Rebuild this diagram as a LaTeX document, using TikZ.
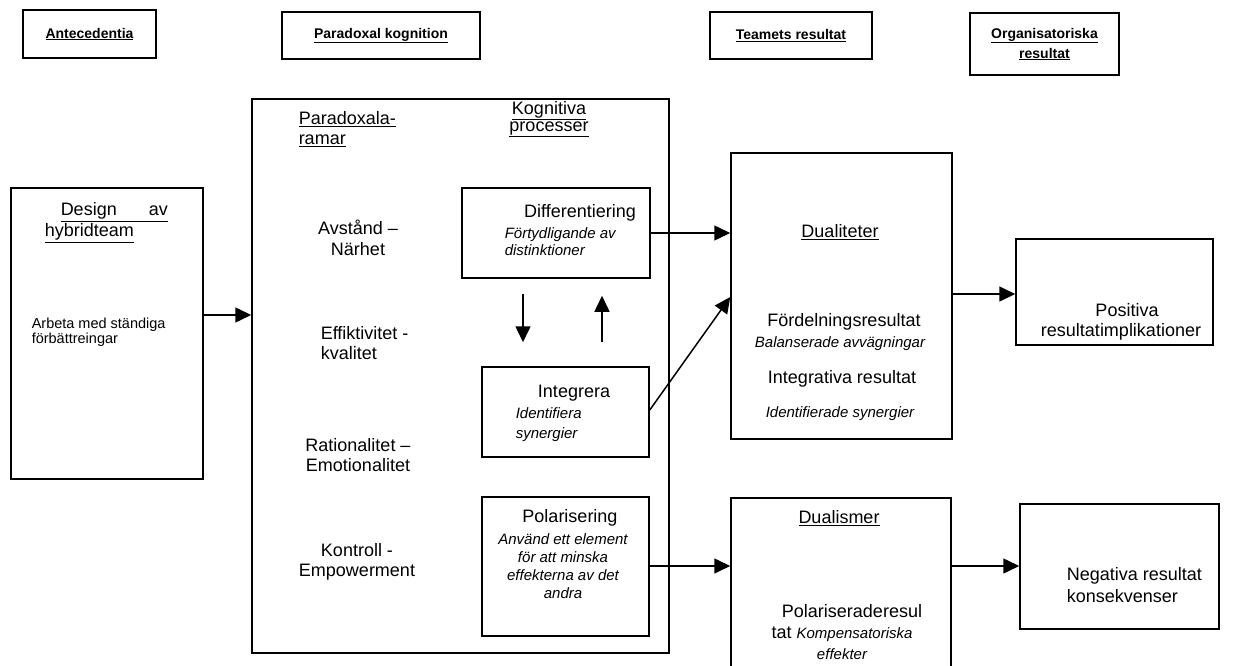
\documentclass[tikz,border=0pt]{standalone}
\usepackage{fontspec}
\setmainfont{Liberation Sans}
\usetikzlibrary{arrows.meta}

\begin{document}
\begin{tikzpicture}[x=1pt, y=-1pt, line width=1.5pt,
    box/.style={draw, inner sep=0pt},
    head/.style={box, align=center, font=\fontsize{14}{20}\selectfont\bfseries},
    txt/.style={inner sep=0pt, font=\fontsize{18}{20.5}\selectfont},
    itx/.style={inner sep=0pt, font=\fontsize{15}{18}\selectfont\itshape},
    arr/.style={-{Triangle[length=16pt,width=15pt]}}]

    % Fix the page to the size of the reference
    \useasboundingbox (0,0) rectangle (1242,666);
    \clip (0,0) rectangle (1242,666);

    % Define the 4 column headers in a row
    \foreach \nm/\cx/\cy/\w/\h/\txt in {ante/89.5/34/133/48/{\underline{Antecedentia}},
        para/381/35.5/198/47/{\underline{Paradoxal kognition}},
        team/791/35.5/162/47/{\underline{Teamets resultat}},
        org/1044.5/44/149/62/{\underline{Organisatoriska}\\\underline{resultat}}} {
      \node[head, minimum width=\w, minimum height=\h] (h\nm) at (\cx,\cy) {\txt};
    }

    % Define the boxes
    \node[box, minimum width=192, minimum height=291] (design) at (107,333.5) {};
    \node[box, minimum width=417, minimum height=554] (frame) at (460.5,376) {};
    \node[box, minimum width=188, minimum height=90] (diff) at (556,233) {};
    \node[box, minimum width=167, minimum height=90] (integ) at (565.5,412) {};
    \node[box, minimum width=167, minimum height=139] (polar) at (565.5,566.5) {};
    \node[box, minimum width=221, minimum height=286] (dual) at (841.5,296) {};
    \node[box, minimum width=220, minimum height=192] (dualism) at (841,594) {};
    \node[box, minimum width=197, minimum height=106] (pos) at (1114.5,292) {};
    \node[box, minimum width=199, minimum height=125] (neg) at (1119.5,566.5) {};

    % Texts of the antecedent box
    \node[txt, anchor=west] (designA) at (60,212) {\underline{Design\hspace{32pt}av}};
    \node[txt, anchor=west] (designB) at (44,233) {\underline{hybridteam}};
    \node[inner sep=0pt, align=left, anchor=west, font=\fontsize{14.5}{15.5}\selectfont] (arbeta) at (31,332) {Arbeta med ständiga\\förbättreingar};

    % Texts of the paradox frames
    \node[txt, align=left, anchor=west] (ramar) at (298,129) {\underline{Paradoxala-}\\\underline{ramar}};
    \node[txt, align=center, font=\fontsize{18}{17}\selectfont] (kogn) at (549,119) {\underline{Kognitiva}\\\underline{processer}};
    \foreach \nm/\cx/\cy/\txt in {avst/358/238/{Avstånd –\\Närhet},
        ratio/358/455/{Rationalitet –\\Emotionalitet},
        kontr/357/562/{Kontroll -\\Empowerment}} {
      \node[txt, align=center] (\nm) at (\cx,\cy) {\txt};
    }
    \node[txt, align=left, anchor=west] (effk) at (320,343) {Effiktivitet -\\kvalitet};

    % Texts of the cognitive processes
    \node[txt] (diffT) at (580,213) {Differentiering};
    \node[itx, align=left, anchor=west, font=\fontsize{15}{17}\selectfont\itshape] (diffI) at (504,242) {Förtydligande av\\distinktioner};
    \node[txt] (integT) at (574,393) {Integrera};
    \node[itx, align=left, anchor=west, font=\fontsize{15}{20}\selectfont\itshape] (integI) at (515,425) {Identifiera\\synergier};
    \node[txt] (polarT) at (570,518) {Polarisering};
    \node[itx, align=center] (polarI) at (563,566) {Använd ett element\\för att minska\\effekterna av det\\andra};

    % Texts of the team results
    \node[txt] (dualT) at (840,232) {\underline{Dualiteter}};
    \node[txt] (fordel) at (844,322) {Fördelningsresultat};
    \node[itx] (balans) at (840,344) {Balanserade avvägningar};
    \node[txt] (integr) at (842,379) {Integrativa resultat};
    \node[itx] (identi) at (840,414) {Identifierade synergier};
    \node[txt] (dualismT) at (839,518) {\underline{Dualismer}};
    \node[txt, align=center, font=\fontsize{18}{21}\selectfont] (polres) at (842,632) {\hspace*{20pt}Polariseraderesul\\tat {\fontsize{15}{18}\selectfont\itshape Kompensatoriska}\\{\fontsize{15}{18}\selectfont\itshape effekter}};

    % Texts of the organisational results
    \node[txt, align=center] (posT) at (1121,322) {\hspace*{12pt}Positiva\\resultatimplikationer};
    \node[txt, align=left, anchor=west, font=\fontsize{18}{22}\selectfont] (negT) at (1066,585) {Negativa resultat\\konsekvenser};

    % Draw the arrows between the boxes
    \draw[arr] ([yshift=18.5pt]design.east) -- ([yshift=18.5pt]design.east -| frame.west);
    \draw[arr] (diff.east) -- (diff.east -| dual.west);
    \draw[arr] ([yshift=2pt]integ.east) -- ([yshift=-1pt]dual.west);
    \draw[arr] ([yshift=0.5pt]polar.east) -- ([yshift=0.5pt]polar.east -| dualism.west);
    \draw[arr] ([yshift=2pt]dual.east) -- ([yshift=2pt]dual.east -| pos.west);
    \draw[arr] ([yshift=28pt]dualism.east) -- ([yshift=28pt]dualism.east -| neg.west);
    \draw[arr, shorten <=15pt, shorten >=24pt] ([xshift=-33pt]diff.south) -- ([xshift=-33pt]diff.south |- integ.north);
    \draw[arr, shorten <=24pt, shorten >=17pt] ([xshift=46pt]diff.south |- integ.north) -- ([xshift=46pt]diff.south);

\end{tikzpicture}
\end{document}
